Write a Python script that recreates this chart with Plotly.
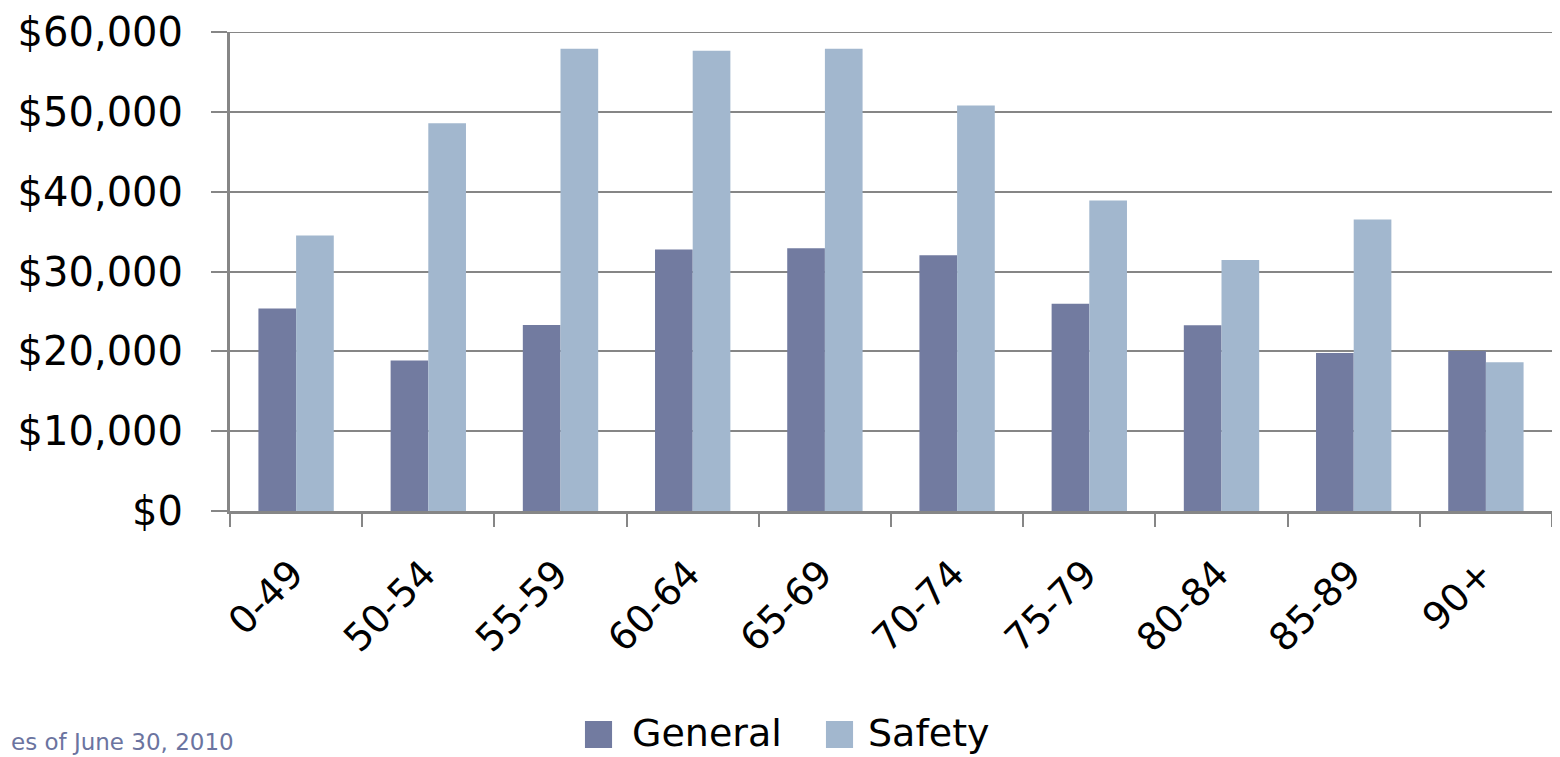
import plotly.graph_objects as go

categories = ["0-49", "50-54", "55-59", "60-64", "65-69", "70-74", "75-79", "80-84", "85-89", "90+"]
general = [25380, 18840, 23310, 32750, 32920, 32050, 25960, 23270, 19790, 20040]
safety = [34500, 48570, 57890, 57640, 57890, 50800, 38880, 31430, 36520, 18630]
y_ticks = [0, 10000, 20000, 30000, 40000, 50000, 60000]
y_tick_labels = ["$0", "$10,000", "$20,000", "$30,000", "$40,000", "$50,000", "$60,000"]
series_names = ["General", "Safety"]

FONT = "DejaVu Sans"
C_GEN = "#727BA0"
C_SAF = "#A2B7CE"
AX = "#868686"

fig = go.Figure()
fig.add_trace(go.Bar(name=series_names[0], x=categories, y=general, showlegend=False,
                     marker=dict(color=C_GEN, line=dict(width=0))))
fig.add_trace(go.Bar(name=series_names[1], x=categories, y=safety, showlegend=False,
                     marker=dict(color=C_SAF, line=dict(width=0))))

# page body has an 8px margin, so the figure is sized to fill the rest of the window
fig.update_layout(
    width=1552, height=749,
    margin=dict(l=222, r=8, t=24, b=246, autoexpand=False),
    paper_bgcolor="white", plot_bgcolor="white",
    barmode="group", bargap=0.43, bargroupgap=0,
    font=dict(family=FONT, color="black", size=38),
    showlegend=False,
)
fig.update_xaxes(
    type="category", tickangle=-45, tickfont=dict(size=38, family=FONT),
    automargin=False, ticklabelstandoff=22, ticklabelshift=-4,
    showline=True, linecolor=AX, linewidth=3,
    ticks="outside", tickson="boundaries", ticklen=13, tickwidth=2, tickcolor=AX,
    showgrid=False,
)
y_top = y_ticks[-1]
fig.update_yaxes(
    range=[0, y_top], tickvals=y_ticks, ticktext=y_tick_labels,
    tickfont=dict(size=40, family=FONT), automargin=False, ticklabelstandoff=20,
    ticklabeloverflow="allow",
    showline=True, linecolor=AX, linewidth=3,
    ticks="outside", ticklen=16, tickwidth=2, tickcolor=AX,
    showgrid=True, gridcolor=AX, gridwidth=2, zeroline=False,
)
# top gridline (plotly drops the grid line on the range edge)
fig.add_shape(type="line", xref="paper", yref="y", x0=0, x1=1, y0=y_top, y1=y_top,
              line=dict(color=AX, width=2), layer="below")

# plot area height is 479 px; legend / note positions in paper units relative to it
PH = 479.0
def py(page_y):
    return (511 - page_y) / PH

legend_items = [(series_names[0], C_GEN, 0.2685, 0.3026), (series_names[1], C_SAF, 0.4508, 0.4811)]
for name, color, sx, tx in legend_items:
    fig.add_shape(type="rect", xref="paper", yref="paper",
                  x0=sx, x1=sx + 0.0205, y0=py(748), y1=py(721),
                  fillcolor=color, line=dict(width=0))
    fig.add_annotation(text=name, xref="paper", yref="paper", x=tx, y=py(757),
                       xanchor="left", yanchor="bottom", showarrow=False,
                       font=dict(size=38, family=FONT, color="black"))

fig.add_annotation(
    text="es of June 30, 2010", xref="paper", yref="paper",
    x=-0.1675, y=py(757), xanchor="left", yanchor="bottom", showarrow=False,
    font=dict(size=23, family=FONT, color="#6B74A0"),
)

fig.write_html("out.html")
